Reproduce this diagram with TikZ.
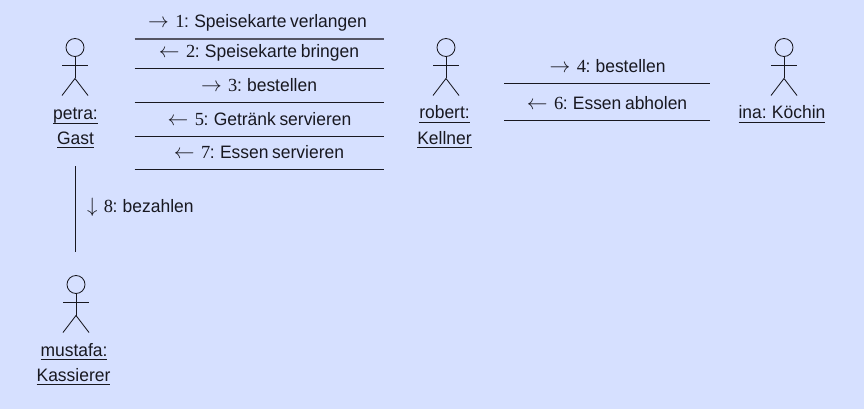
\documentclass[tikz,border=0pt]{standalone}
\usepackage{fontspec}
\setmainfont[FakeStretch=0.97,WordSpace=0.75]{Liberation Sans}
\newfontfamily\serifnum{Liberation Serif}
\definecolor{bgblue}{RGB}{214,224,255}
\definecolor{inkdark}{RGB}{24,24,32}
\definecolor{inkgrey}{RGB}{85,85,100}
\newlength{\ulw}
\newcommand{\ulabel}[1]{\settowidth{\ulw}{#1}\rlap{\rule[-3.6pt]{\ulw}{0.9pt}}#1}
\newcommand{\msg}[3]{{\fontsize{21}{20}\selectfont$#1$}\kern6.5pt{\serifnum\fontsize{18.5}{20}\selectfont #2}\kern-0.5pt#3}
\tikzset{
  x=1pt,y=-1pt,
  actorline/.style={draw=inkdark,line width=0.85pt},
  msgline/.style={draw=inkdark,line width=0.8pt},
  msglabel/.style={anchor=base,inner sep=0pt,outer sep=0pt,text=inkdark,font=\fontsize{18}{20}\selectfont},
  actorlabel/.style={anchor=base,inner sep=0pt,outer sep=0pt,text=inkdark,font=\fontsize{18}{20}\selectfont},
  actor/.pic={
    \draw[actorline] (0,-18) circle (9);
    \draw[actorline] (0,-9) -- (0,13);
    \draw[actorline] (-13,0) -- (13,0);
    \draw[actorline] (-13,30) -- (0,13) -- (13,30);
  }
}
\begin{document}
\begin{tikzpicture}
\useasboundingbox[fill=bgblue] (0,0) rectangle (864,409);
\pic at (75,65.5) {actor};
\pic at (446,65.5) {actor};
\pic at (784,65.5) {actor};
\pic at (76,302.5) {actor};
\node[actorlabel] (petra) at (75.5,120) {\ulabel{petra:}};
\node[actorlabel] (gast) at (75.5,144) {\ulabel{Gast}};
\node[actorlabel] (robert) at (444.5,119) {\ulabel{robert:}};
\node[actorlabel] (kellner) at (444.5,144) {\ulabel{Kellner}};
\node[actorlabel] (ina) at (782,119) {\ulabel{ina: Köchin}};
\node[actorlabel] (mustafa) at (74,356) {\ulabel{mustafa:}};
\node[actorlabel] (kassierer) at (73.5,381) {\ulabel{Kassierer}};
\coordinate (al) at (134.5,39);
\coordinate (ar) at (383.5,39);
\draw[msgline,draw=inkgrey,line width=1.2pt] (al) -- (ar);
\foreach \n/\y in {b/68,c/102,d/136,e/169}{
  \coordinate (\n l) at (134.5,\y);
  \coordinate (\n r) at (383.5,\y);
  \draw[msgline] (\n l) -- (\n r);
}
\foreach \n/\y in {f/83,g/120}{
  \coordinate (\n l) at (504,\y);
  \coordinate (\n r) at (710,\y);
  \draw[msgline] (\n l) -- (\n r);
}
\coordinate (vt) at (75.5,166);
\coordinate (vb) at (75.5,251.5);
\draw[msgline] (vt) -- (vb);
\node[msglabel] (m1) at (257.5,27.5) {\msg{\rightarrow}{1}{: Speisekarte verlangen}};
\node[msglabel] (m2) at (259,57.5) {\msg{\leftarrow}{2}{: Speisekarte bringen}};
\node[msglabel] (m3) at (259,91.5) {\msg{\rightarrow}{3}{: bestellen}};
\node[msglabel] (m5) at (259.5,125.5) {\msg{\leftarrow}{5}{: Getränk servieren}};
\node[msglabel] (m7) at (259,158.5) {\msg{\leftarrow}{7}{: Essen servieren}};
\node[msglabel] (m4) at (607.5,72.5) {\msg{\rightarrow}{4}{: bestellen}};
\node[msglabel] (m6) at (607,109.5) {\msg{\leftarrow}{6}{: Essen abholen}};
\node[msglabel,anchor=base west] (m8) at (87,212.5) {\msg{\downarrow}{8}{: bezahlen}};
\end{tikzpicture}
\end{document}
